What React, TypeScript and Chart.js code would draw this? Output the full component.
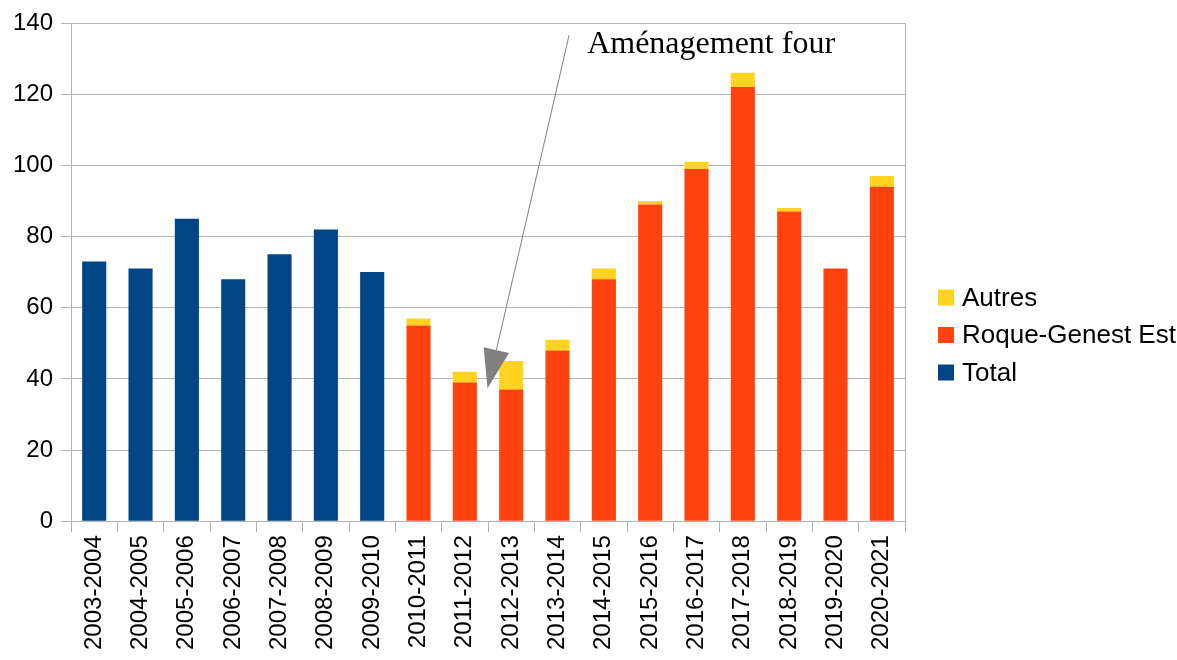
import React, { useEffect, useRef } from "react";
import { Chart, registerables } from "chart.js";

Chart.register(...registerables);

const categories = [
  "2003-2004", "2004-2005", "2005-2006", "2006-2007", "2007-2008", "2008-2009",
  "2009-2010", "2010-2011", "2011-2012", "2012-2013", "2013-2014", "2014-2015",
  "2015-2016", "2016-2017", "2017-2018", "2018-2019", "2019-2020", "2020-2021",
];

const totalValues = [73, 71, 85, 68, 75, 82, 70, null, null, null, null, null, null, null, null, null, null, null];
const roqueValues = [null, null, null, null, null, null, null, 55, 39, 37, 48, 68, 89, 99, 122, 87, 71, 94];
const autresValues = [null, null, null, null, null, null, null, 2, 3, 8, 3, 3, 1, 2, 4, 1, 0, 3];

const yTicks = [0, 20, 40, 60, 80, 100, 120, 140];

const annotationText = "Aménagement four";
// arrow tail / tip in data space (category index, value)
const arrowTail = [10.25, 136.6];
const arrowTip = [8.49, 37.4];
const textAnchor = [10.64, 131.5];

const COLORS = { total: "#004586", roque: "#ff420e", autres: "#ffd320", grid: "#b3b3b3" };
const FONT = "'Liberation Sans', Arial, sans-serif";

const decorPlugin = {
  id: "decor",
  afterDraw(chart: any) {
    const { ctx, chartArea, scales } = chart;
    const x = scales.x;
    const y = scales.y;
    ctx.save();
    // right border of plot area
    ctx.strokeStyle = COLORS.grid;
    ctx.lineWidth = 1;
    ctx.beginPath();
    ctx.moveTo(Math.round(chartArea.right) + 0.5, chartArea.top);
    ctx.lineTo(Math.round(chartArea.right) + 0.5, chartArea.bottom);
    ctx.stroke();

    // annotation arrow
    const tx = x.getPixelForValue(arrowTail[0]);
    const ty = y.getPixelForValue(arrowTail[1]);
    const px = x.getPixelForValue(arrowTip[0]);
    const py = y.getPixelForValue(arrowTip[1]);
    const dx = px - tx;
    const dy = py - ty;
    const len = Math.sqrt(dx * dx + dy * dy);
    const ux = dx / len;
    const uy = dy / len;
    const headLen = 39;
    const headW = 13;
    const bx = px - ux * headLen;
    const by = py - uy * headLen;
    ctx.strokeStyle = "#808080";
    ctx.lineWidth = 1;
    ctx.beginPath();
    ctx.moveTo(tx, ty);
    ctx.lineTo(bx, by);
    ctx.stroke();
    ctx.fillStyle = "#808080";
    ctx.beginPath();
    ctx.moveTo(px, py);
    ctx.lineTo(bx - uy * headW, by + ux * headW);
    ctx.lineTo(bx + uy * headW, by - ux * headW);
    ctx.closePath();
    ctx.fill();

    // annotation text
    ctx.fillStyle = "#000";
    ctx.font = "32px 'Liberation Serif', 'Times New Roman', serif";
    ctx.textBaseline = "alphabetic";
    ctx.textAlign = "left";
    ctx.fillText(annotationText, x.getPixelForValue(textAnchor[0]), y.getPixelForValue(textAnchor[1]));

    // legend
    const items = chart.data.datasets.slice().reverse();
    const boxX = chartArea.right + 33;
    const cy = chart.height / 2 + 5;
    ctx.font = "26px " + FONT;
    ctx.textBaseline = "middle";
    items.forEach((ds: any, i: number) => {
      const yy = cy + (i - 1) * 37.5;
      ctx.fillStyle = ds.backgroundColor;
      ctx.fillRect(boxX, yy - 8, 16, 16);
      ctx.fillStyle = "#000";
      ctx.fillText(ds.label, boxX + 24, yy + 1);
    });
    ctx.restore();
  },
};

export default function App() {
  const ref = useRef<HTMLCanvasElement>(null);
  useEffect(() => {
    document.body.style.margin = "0";
    document.body.style.background = "#fff";
    Chart.defaults.font.family = FONT;
    Chart.defaults.font.size = 24;
    Chart.defaults.color = "#000";
    const chart = new Chart(ref.current!, {
      type: "bar",
      data: {
        labels: categories,
        datasets: [
          { label: "Total", data: totalValues, backgroundColor: COLORS.total, stack: "s" },
          { label: "Roque-Genest Est", data: roqueValues, backgroundColor: COLORS.roque, stack: "s" },
          { label: "Autres", data: autresValues, backgroundColor: COLORS.autres, stack: "s" },
        ],
      },
      options: {
        animation: false,
        responsive: false,
        devicePixelRatio: 1,
        layout: { padding: { left: 5, top: 23, right: 272, bottom: 7 } },
        datasets: { bar: { barPercentage: 0.52, categoryPercentage: 1 } },
        plugins: { legend: { display: false }, tooltip: { enabled: false } },
        scales: {
          x: {
            stacked: true,
            grid: { offset: true, drawOnChartArea: false, drawTicks: true, tickLength: 11, color: COLORS.grid },
            border: { color: COLORS.grid },
            ticks: { maxRotation: 90, minRotation: 90, autoSkip: false, padding: 3, color: "#000", font: { size: 24 } },
          },
          y: {
            stacked: true,
            min: 0,
            max: 140,
            afterBuildTicks: (scale: any) => {
              scale.ticks = yTicks.map((v) => ({ value: v }));
            },
            grid: { color: COLORS.grid, tickLength: 10 },
            border: { color: COLORS.grid },
            ticks: { padding: 8, color: "#000", font: { size: 24 } },
          },
        },
      },
      plugins: [decorPlugin],
    });
    return () => chart.destroy();
  }, []);
  return (
    <div style={{ position: "absolute", left: 0, top: 0, width: 1177, height: 660 }}>
      <canvas ref={ref} width={1177} height={660} />
    </div>
  );
}
